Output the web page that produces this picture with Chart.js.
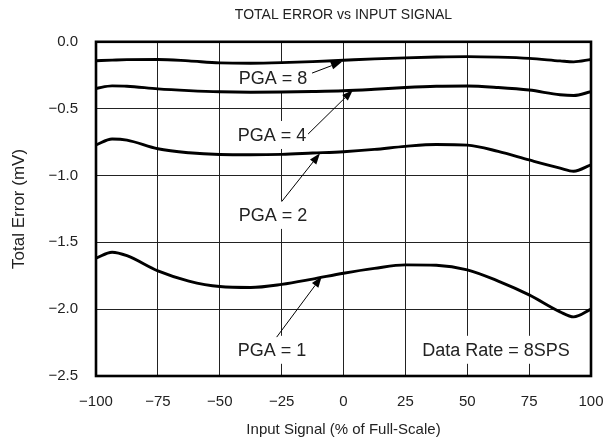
<!DOCTYPE html>
<html>
<head>
<meta charset="utf-8">
<script src="https://cdn.jsdelivr.net/npm/chart.js@4/dist/chart.umd.min.js"></script>
<style>
    html, body { margin: 0; padding: 0; background: #fff; }
    #errorChart { display: block; }
</style>
</head>
<body>
<canvas id="errorChart" width="608" height="446"></canvas>
<script>
// input signal (% of full-scale)
var inputSignal = [-100, -93.5, -87.5, -75, -62.5, -50, -37.5, -25, -12.5, 0, 12.5, 25, 37.5, 50, 62.5, 75, 87.5, 93, 100];

// total error (mV) per PGA setting
var pga8 = [-0.142, -0.137, -0.133, -0.132, -0.143, -0.158, -0.160, -0.156, -0.148, -0.138, -0.128, -0.120, -0.114, -0.111, -0.115, -0.124, -0.143, -0.150, -0.132];
var pga4 = [-0.349, -0.330, -0.332, -0.352, -0.365, -0.374, -0.377, -0.376, -0.372, -0.366, -0.355, -0.342, -0.333, -0.331, -0.342, -0.361, -0.396, -0.402, -0.373];
var pga2 = [-0.772, -0.727, -0.735, -0.800, -0.830, -0.843, -0.845, -0.842, -0.832, -0.822, -0.805, -0.782, -0.768, -0.773, -0.820, -0.884, -0.945, -0.968, -0.920];
var pga1 = [-1.619, -1.574, -1.600, -1.714, -1.790, -1.831, -1.838, -1.815, -1.775, -1.731, -1.695, -1.669, -1.672, -1.706, -1.790, -1.893, -2.020, -2.058, -2.000];

var xTicks = [-100, -75, -50, -25, 0, 25, 50, 75, 100];
var yTicks = [-2.5, -2.0, -1.5, -1.0, -0.5, 0.0];

var fontFamily = "'Liberation Sans', Arial, sans-serif";
var textColor = "#222";

function toPoints(values) {
    return values.map(function (v, i) {
        return { x: inputSignal[i], y: v };
    });
}

function curve(label, values) {
    return {
        label: label,
        data: toPoints(values),
        borderColor: "#000",
        borderWidth: 2.9,
        pointRadius: 0,
        fill: false,
        cubicInterpolationMode: "monotone",
    };
}

// labels and arrows inside the plot, given in data units
var notes = [
    { text: "PGA = 8", x: -28.5, y: -0.268, from: [-12.7, -0.234], to: [-0.6, -0.149] },
    { text: "PGA = 4", x: -28.9, y: -0.697, from: [-14.3, -0.69], to: [3.8, -0.361] },
    { text: "PGA = 2", x: -28.5, y: -1.295, from: [-25, -1.196], to: [-9.5, -0.834] },
    { text: "PGA = 1", x: -28.9, y: -2.304, from: [-27, -2.209], to: [-8.8, -1.756] },
    { text: "Data Rate = 8SPS", x: 61.6, y: -2.304 },
];

function drawArrow(ctx, x1, y1, x2, y2) {
    var ang = Math.atan2(y2 - y1, x2 - x1);
    var len = 11, half = 4;
    ctx.beginPath();
    ctx.moveTo(x1, y1);
    ctx.lineTo(x2 - Math.cos(ang) * len, y2 - Math.sin(ang) * len);
    ctx.lineWidth = 1;
    ctx.strokeStyle = "#000";
    ctx.stroke();
    ctx.beginPath();
    ctx.moveTo(x2, y2);
    ctx.lineTo(x2 - Math.cos(ang) * len - Math.sin(ang) * half, y2 - Math.sin(ang) * len + Math.cos(ang) * half);
    ctx.lineTo(x2 - Math.cos(ang) * len + Math.sin(ang) * half, y2 - Math.sin(ang) * len - Math.cos(ang) * half);
    ctx.closePath();
    ctx.fillStyle = "#000";
    ctx.fill();
}

var notesPlugin = {
    id: "notes",
    beforeDatasetsDraw: function (chart) {
        var ctx = chart.ctx;
        var xs = chart.scales.x, ys = chart.scales.y;
        ctx.save();
        ctx.font = "18px " + fontFamily;
        ctx.textAlign = "center";
        ctx.textBaseline = "middle";
        notes.forEach(function (n) {
            var px = xs.getPixelForValue(n.x);
            var py = ys.getPixelForValue(n.y);
            var w = ctx.measureText(n.text).width;
            // white box hides the grid behind the text
            ctx.fillStyle = "#fff";
            ctx.fillRect(px - w / 2 - 4, py - 14, w + 8, 28);
            ctx.fillStyle = textColor;
            ctx.fillText(n.text, px, py + 1);
            if (n.from) {
                drawArrow(ctx,
                    xs.getPixelForValue(n.from[0]), ys.getPixelForValue(n.from[1]),
                    xs.getPixelForValue(n.to[0]), ys.getPixelForValue(n.to[1]));
            }
        });
        ctx.restore();
    },
    afterDraw: function (chart) {
        // heavy frame round the plot
        var a = chart.chartArea;
        var ctx = chart.ctx;
        ctx.save();
        ctx.lineWidth = 2.6;
        ctx.strokeStyle = "#000";
        ctx.strokeRect(a.left, a.top, a.right - a.left, a.bottom - a.top);
        ctx.restore();
    },
};

var ctxError = document.getElementById("errorChart").getContext("2d");
var errorChart = new Chart(ctxError, {
    type: "line",
    data: {
        datasets: [
            curve("PGA = 8", pga8),
            curve("PGA = 4", pga4),
            curve("PGA = 2", pga2),
            curve("PGA = 1", pga1),
        ],
    },
    options: {
        responsive: false,
        animation: false,
        layout: { padding: { left: 0, right: 17, top: 0, bottom: 0 } },
        plugins: {
            legend: { display: false },
            tooltip: { enabled: false },
            title: {
                display: true,
                text: "TOTAL ERROR vs INPUT SIGNAL",
                fullSize: false,
                color: textColor,
                font: { family: fontFamily, size: 14, weight: "normal" },
                padding: { top: 7, bottom: 18 },
            },
        },
        scales: {
            x: {
                type: "linear",
                min: -100,
                max: 100,
                afterFit: function (scale) {
                    scale.height = 70;
                    scale.paddingLeft = 0;
                    scale.paddingRight = 0;
                },
                afterBuildTicks: function (scale) {
                    scale.ticks = xTicks.map(function (v) { return { value: v }; });
                },
                ticks: {
                    padding: 17,
                    color: textColor,
                    font: { family: fontFamily, size: 15 },
                    maxRotation: 0,
                    callback: function (v) { return String(v).replace("-", "\u2212"); },
                },
                grid: { color: "#222", lineWidth: 1, drawTicks: false },
                border: { display: false },
                title: {
                    display: true,
                    text: "Input Signal (% of Full-Scale)",
                    color: textColor,
                    font: { family: fontFamily, size: 15 },
                    padding: { top: 0, bottom: 7 },
                },
            },
            y: {
                min: -2.5,
                max: 0,
                afterFit: function (scale) {
                    scale.width = 96;
                    scale.paddingTop = 0;
                    scale.paddingBottom = 0;
                },
                afterBuildTicks: function (scale) {
                    scale.ticks = yTicks.map(function (v) { return { value: v }; });
                },
                ticks: {
                    padding: 18,
                    color: textColor,
                    font: { family: fontFamily, size: 15 },
                    callback: function (v) { return v.toFixed(1).replace("-", "\u2212"); },
                },
                grid: { color: "#222", lineWidth: 1, drawTicks: false },
                border: { display: false },
                title: {
                    display: true,
                    text: "Total Error (mV)",
                    color: textColor,
                    font: { family: fontFamily, size: 17 },
                    padding: { top: 9, bottom: 0 },
                },
            },
        },
    },
    plugins: [notesPlugin],
});
</script>
</body>
</html>
